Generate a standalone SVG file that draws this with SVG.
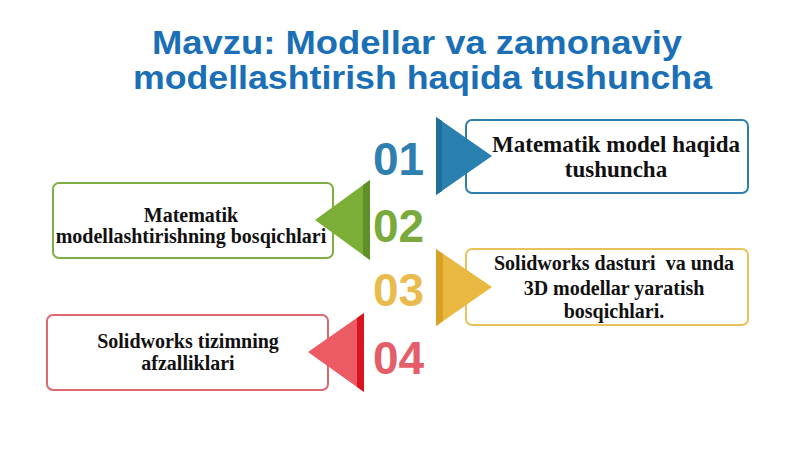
<svg xmlns="http://www.w3.org/2000/svg" width="800" height="449" viewBox="0 0 800 449">
<style>
.title{font-family:"Liberation Sans",Arial,sans-serif;font-weight:bold;font-size:34px;fill:#1a6fb6}
.num{font-family:"Liberation Sans",Arial,sans-serif;font-weight:bold;font-size:46px}
.lbl{font-family:"Liberation Serif","Times New Roman",serif;font-weight:bold;font-size:20px;fill:#111;text-anchor:middle}
.box{fill:#fff;stroke-width:2}
</style>
<rect width="800" height="449" fill="#fff"/>
<g id="title">
<text class="title" x="152" y="54" textLength="530" lengthAdjust="spacingAndGlyphs">Mavzu: Modellar va zamonaviy</text>
<text class="title" x="133" y="89" textLength="579" lengthAdjust="spacingAndGlyphs">modellashtirish haqida tushuncha</text>
</g>
<g id="node1">
<text class="num" x="373" y="175" fill="#2f80b0">01</text>
<rect class="box" x="466" y="120" width="282" height="73" rx="6" stroke="#2f7fae"/>
<text class="lbl" x="616" y="152" style="font-size:23px">Matematik model haqida</text>
<text class="lbl" x="616" y="177" style="font-size:23px">tushuncha</text>
</g>
<g id="node2">
<text class="num" x="373" y="242" fill="#7aaa3c">02</text>
<rect class="box" x="53" y="183" width="280" height="75" rx="6" stroke="#7fae45"/>
<text class="lbl" x="191" y="222">Matematik</text>
<text class="lbl" x="191" y="243">modellashtirishning bosqichlari</text>
</g>
<g id="node3">
<text class="num" x="373" y="306" fill="#e9bb4c">03</text>
<rect class="box" x="466" y="249" width="282" height="76" rx="6" stroke="#e8c25a"/>
<text class="lbl" x="614" y="270" xml:space="preserve">Solidworks dasturi  va unda</text>
<text class="lbl" x="614" y="295">3D modellar yaratish</text>
<text class="lbl" x="614" y="318">bosqichlari.</text>
</g>
<g id="node4">
<text class="num" x="373" y="374" fill="#e45d69">04</text>
<rect class="box" x="47" y="315" width="281" height="75" rx="6" stroke="#e06670"/>
<text class="lbl" x="188" y="348">Solidworks tizimning</text>
<text class="lbl" x="188" y="370">afzalliklari</text>
</g>
<g id="connectors">
<polygon points="436,117 492,156 436,195" fill="#2a80ae"/>
<polygon points="436,117 442,121 442,191 436,195" fill="#1f6e98"/>
<polygon points="370,180 315,220 370,260" fill="#7aae36"/>
<polygon points="370,180 363,185 363,255 370,260" fill="#5f8f2a"/>
<polygon points="436,249 492,287 436,326" fill="#e9b840"/>
<polygon points="436,249 443,254 443,321 436,326" fill="#d7a224"/>
<polygon points="364,313 308,352 364,392" fill="#ec5a64"/>
<polygon points="364,313 357,318 357,387 364,392" fill="#d8151f"/>
</g>
</svg>
